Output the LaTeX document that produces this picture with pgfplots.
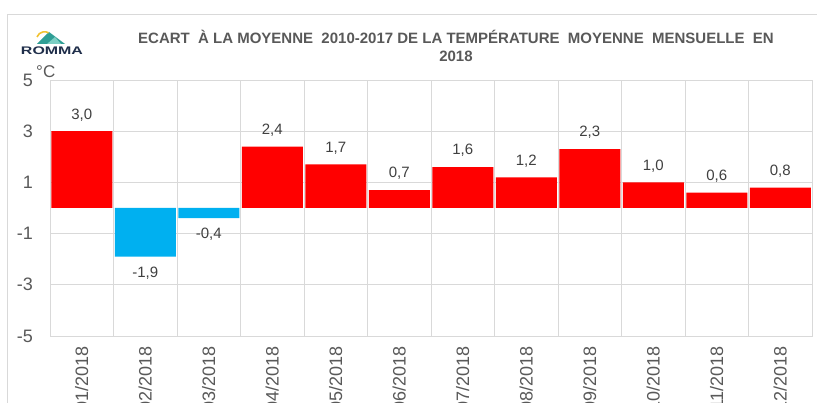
\documentclass[border=0pt]{standalone}
\usepackage{pgfplots}
\pgfplotsset{compat=1.18}
\usepackage{fontspec}
\setmainfont{Liberation Sans}
\definecolor{gridc}{HTML}{D9D9D9}
\definecolor{labc}{HTML}{595959}
\definecolor{datac}{HTML}{404040}
\definecolor{barred}{HTML}{FF0000}
\definecolor{barblue}{HTML}{00B0F0}
\definecolor{teal1}{HTML}{2E9E95}
\definecolor{teal2}{HTML}{7CCFC4}
\definecolor{navy}{HTML}{1F2E4A}
\definecolor{yell}{HTML}{F2C230}
\begin{document}
\begin{tikzpicture}[x=1pt,y=1pt]
\useasboundingbox (0,0) rectangle (817,403);
\clip (0,0) rectangle (817,403);
\fill[white] (0,0) rectangle (817,403);
\draw[gridc, line width=0.8pt] (7,0) -- (7,389) -- (817,389);
% logo
\fill[teal1] (37,359) -- (49,371) -- (65,359) -- cycle;
\fill[teal2] (47,359) -- (55,366) -- (61,359) -- cycle;
\draw[yell, line width=1.6pt] (37,366) arc[start angle=160, end angle=60, radius=8];
\node[font=\bfseries\fontsize{11}{11}\selectfont, text=navy, inner sep=0pt] at (52,352) {\scalebox{1.45}[1]{ROMMA}};
% title
\node[font=\bfseries\fontsize{15}{18}\selectfont, text=labc, align=center, inner sep=0pt] at (456,357)
 {ECART\ \ À LA MOYENNE\ \ 2010-2017 DE LA TEMPÉRATURE\ \ MOYENNE\ \ MENSUELLE\ \ EN\\2018};
\node[font=\fontsize{17}{17}\selectfont, text=labc, anchor=north west, inner sep=0pt] at (36,338) {°C};
\begin{axis}[
  at={(50pt,67pt)}, anchor=south west,
  width=762pt, height=256pt, scale only axis,
  xmin=-0.5, xmax=11.5, ymin=-5, ymax=5,
  ytick={-5,-3,-1,1,3,5},
  xtick={0,...,11},
  xticklabels={01/2018,02/2018,03/2018,04/2018,05/2018,06/2018,07/2018,08/2018,09/2018,10/2018,11/2018,12/2018},
  minor xtick={-0.5,0.5,...,11.5},
  xminorgrids=true, ymajorgrids=true,
  grid style={draw=gridc, line width=0.8pt},
  minor grid style={draw=gridc, line width=0.8pt},
  axis line style={draw=gridc, line width=0.8pt},
  major tick length=0pt, minor tick length=0pt,
  tick label style={font=\fontsize{18}{18}\selectfont, text=labc, inner sep=0pt},
  xticklabel style={rotate=90, anchor=east},
  xticklabel shift=10pt,
  yticklabel style={anchor=east},
  yticklabel shift=17pt,
  /pgf/number format/assume math mode=true,
  ybar, bar width=61pt,
  nodes near coords={\pgfmathprintnumber[fixed,fixed zerofill,precision=1,use comma,assume math mode=true]{\pgfplotspointmeta}},
  every node near coord/.append style={font=\fontsize{15}{15}\selectfont, text=datac, inner sep=10pt},
]
\addplot[fill=barred, draw=none, bar shift=0pt] coordinates {
 (0,3.0) (3,2.4) (4,1.7) (5,0.7) (6,1.6) (7,1.2) (8,2.3) (9,1.0) (10,0.6) (11,0.8)};
\addplot[fill=barblue, draw=none, bar shift=0pt, nodes near coords align=vertical] coordinates {
 (1,-1.9) (2,-0.4)};
\end{axis}
\end{tikzpicture}
\end{document}
